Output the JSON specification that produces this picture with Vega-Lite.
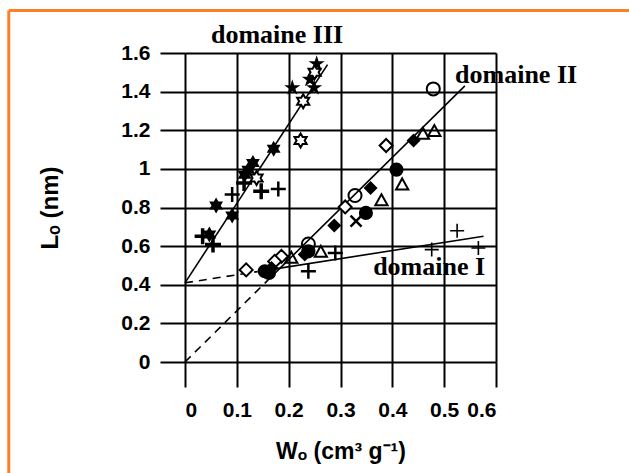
{
  "$schema": "https://vega.github.io/schema/vega-lite/v6.json",
  "width": 311,
  "height": 309,
  "autosize": "none",
  "padding": {"left": 185, "top": 53, "right": 133, "bottom": 111},
  "background": "white",
  "config": {"view": {"stroke": null}},
  "datasets": {
    "points": [
      {"t": "star5", "x": 0.254, "y": 1.544},
      {"t": "star5", "x": 0.241, "y": 1.463},
      {"t": "star5", "x": 0.249, "y": 1.42},
      {"t": "star5", "x": 0.207, "y": 1.42},
      {"t": "hexo", "x": 0.25, "y": 1.5},
      {"t": "hexo", "x": 0.228, "y": 1.35},
      {"t": "hexo", "x": 0.223, "y": 1.147},
      {"t": "hexo", "x": 0.138, "y": 0.953},
      {"t": "hex", "x": 0.171, "y": 1.104},
      {"t": "hex", "x": 0.131, "y": 1.031},
      {"t": "hex", "x": 0.122, "y": 0.996},
      {"t": "hex", "x": 0.115, "y": 0.97},
      {"t": "hex", "x": 0.06, "y": 0.811},
      {"t": "hex", "x": 0.091, "y": 0.758},
      {"t": "hex", "x": 0.047, "y": 0.66},
      {"t": "plusT", "x": 0.034, "y": 0.651},
      {"t": "plusT", "x": 0.054, "y": 0.608},
      {"t": "plusT", "x": 0.114, "y": 0.927},
      {"t": "plusT", "x": 0.147, "y": 0.884},
      {"t": "plusM", "x": 0.091, "y": 0.867},
      {"t": "plusM", "x": 0.18, "y": 0.896},
      {"t": "plusM", "x": 0.29, "y": 0.565},
      {"t": "plusM", "x": 0.238, "y": 0.47},
      {"t": "plusS", "x": 0.525, "y": 0.68},
      {"t": "plusS", "x": 0.476, "y": 0.582},
      {"t": "plusS", "x": 0.566, "y": 0.59},
      {"t": "circo", "x": 0.479, "y": 1.414},
      {"t": "circo", "x": 0.328, "y": 0.862},
      {"t": "circo", "x": 0.238, "y": 0.611},
      {"t": "circf", "x": 0.408, "y": 0.996},
      {"t": "circf", "x": 0.349, "y": 0.772},
      {"t": "circf", "x": 0.238, "y": 0.573},
      {"t": "circf", "x": 0.154, "y": 0.47},
      {"t": "circf", "x": 0.162, "y": 0.461},
      {"t": "diao", "x": 0.388, "y": 1.121},
      {"t": "diao", "x": 0.309, "y": 0.803},
      {"t": "diao", "x": 0.118, "y": 0.477},
      {"t": "diao", "x": 0.186, "y": 0.547},
      {"t": "diao", "x": 0.173, "y": 0.521},
      {"t": "diaf", "x": 0.441, "y": 1.147},
      {"t": "diaf", "x": 0.358, "y": 0.901},
      {"t": "diaf", "x": 0.288, "y": 0.707},
      {"t": "diaf", "x": 0.231, "y": 0.556},
      {"t": "diaf", "x": 0.167, "y": 0.487},
      {"t": "tri", "x": 0.481, "y": 1.195},
      {"t": "tri", "x": 0.459, "y": 1.181},
      {"t": "tri", "x": 0.419, "y": 0.919},
      {"t": "tri", "x": 0.379, "y": 0.837},
      {"t": "tri", "x": 0.205, "y": 0.539},
      {"t": "tri", "x": 0.262, "y": 0.57},
      {"t": "x", "x": 0.33, "y": 0.729}
    ],
    "lines": [
      {"seg": "III", "style": "solid", "x": 0, "y": 0.41},
      {"seg": "III", "style": "solid", "x": 0.275, "y": 1.54},
      {"seg": "IIa", "style": "dash", "x": 0, "y": 0},
      {"seg": "IIa", "style": "dash", "x": 0.16, "y": 0.424},
      {"seg": "IIb", "style": "solid", "x": 0.16, "y": 0.424},
      {"seg": "IIb", "style": "solid", "x": 0.54, "y": 1.43},
      {"seg": "Ia", "style": "dash", "x": 0, "y": 0.41},
      {"seg": "Ia", "style": "dash", "x": 0.14, "y": 0.468},
      {"seg": "Ib", "style": "solid", "x": 0.14, "y": 0.468},
      {"seg": "Ib", "style": "solid", "x": 0.576, "y": 0.651}
    ],
    "labels": [
      {"label": "domaine III", "x": 0.05, "y": 1.652},
      {"label": "domaine II", "x": 0.521, "y": 1.445},
      {"label": "domaine I", "x": 0.363, "y": 0.451}
    ],
    "frame": [
      {"side": "top", "x": -0.34, "y": 1.82},
      {"side": "top", "x": 0.9, "y": 1.82},
      {"side": "left", "x": -0.34, "y": 1.82},
      {"side": "left", "x": -0.34, "y": -0.6}
    ]
  },
  "encoding": {
    "x": {
      "field": "x", "type": "quantitative",
      "scale": {"domain": [0, 0.6], "nice": false, "zero": false},
      "axis": {
        "values": [0, 0.1, 0.2, 0.3, 0.4, 0.5, 0.6],
        "format": "~g",
        "grid": true, "gridColor": "black", "gridWidth": 2, "gridOpacity": 1,
        "domain": false,
        "tickSize": 25, "tickColor": "black", "tickWidth": 2,
        "labelFont": "Liberation Sans", "labelFontSize": 21, "labelFontWeight": "bold", "labelColor": "black",
        "labelPadding": 12,
        "title": "Wₒ (cm³ g⁻¹)",
        "titleFont": "Liberation Sans", "titleFontSize": 23, "titleFontWeight": "bold", "titleColor": "black",
        "titlePadding": 20
      }
    },
    "y": {
      "field": "y", "type": "quantitative",
      "scale": {"domain": [0, 1.6], "nice": false, "zero": false},
      "axis": {
        "values": [0, 0.2, 0.4, 0.6, 0.8, 1, 1.2, 1.4, 1.6],
        "format": "~g",
        "grid": true, "gridColor": "black", "gridWidth": 2, "gridOpacity": 1,
        "domain": false,
        "tickSize": 25, "tickColor": "black", "tickWidth": 2,
        "labelFont": "Liberation Sans", "labelFontSize": 21, "labelFontWeight": "bold", "labelColor": "black",
        "labelPadding": 10,
        "title": "Lₒ (nm)",
        "titleFont": "Liberation Sans", "titleFontSize": 24, "titleFontWeight": "bold", "titleColor": "black",
        "titlePadding": 58
      }
    }
  },
  "layer": [
    {
      "data": {"name": "frame"},
      "mark": {"type": "line", "color": "#ff7f27", "strokeWidth": 3, "clip": false},
      "encoding": {"detail": {"field": "side"}}
    },
    {
      "data": {"name": "lines"},
      "transform": [{"filter": "datum.style === 'solid'"}],
      "mark": {"type": "line", "color": "black", "strokeWidth": 1.6},
      "encoding": {"detail": {"field": "seg"}}
    },
    {
      "data": {"name": "lines"},
      "transform": [{"filter": "datum.style === 'dash'"}],
      "mark": {"type": "line", "color": "black", "strokeWidth": 1.6, "strokeDash": [8, 6]},
      "encoding": {"detail": {"field": "seg"}}
    },
    {
      "data": {"name": "points"},
      "transform": [{"filter": "datum.t === 'star5'"}],
      "mark": {"type": "point", "shape": "M0,-1L0.225,-0.309L0.951,-0.309L0.363,0.118L0.588,0.809L0,0.382L-0.588,0.809L-0.363,0.118L-0.951,-0.309L-0.225,-0.309Z", "size": 289, "filled": true, "color": "black", "opacity": 1}
    },
    {
      "data": {"name": "points"},
      "transform": [{"filter": "datum.t === 'hex'"}],
      "mark": {"type": "point", "shape": "M0,-1L0.289,-0.5L0.866,-0.5L0.577,0L0.866,0.5L0.289,0.5L0,1L-0.289,0.5L-0.866,0.5L-0.577,0L-0.866,-0.5L-0.289,-0.5Z", "size": 256, "filled": true, "color": "black", "opacity": 1}
    },
    {
      "data": {"name": "points"},
      "transform": [{"filter": "datum.t === 'hexo'"}],
      "mark": {"type": "point", "shape": "M0,-1L0.289,-0.5L0.866,-0.5L0.577,0L0.866,0.5L0.289,0.5L0,1L-0.289,0.5L-0.866,0.5L-0.577,0L-0.866,-0.5L-0.289,-0.5Z", "size": 196, "filled": false, "fill": "white", "fillOpacity": 1, "stroke": "black", "strokeWidth": 2, "opacity": 1}
    },
    {
      "data": {"name": "points"},
      "transform": [{"filter": "datum.t === 'plusT'"}],
      "mark": {"type": "point", "shape": "M-1,0L1,0M0,-1L0,1", "size": 256, "filled": false, "stroke": "black", "strokeWidth": 3.5, "opacity": 1}
    },
    {
      "data": {"name": "points"},
      "transform": [{"filter": "datum.t === 'plusM'"}],
      "mark": {"type": "point", "shape": "M-1,0L1,0M0,-1L0,1", "size": 225, "filled": false, "stroke": "black", "strokeWidth": 2.5, "opacity": 1}
    },
    {
      "data": {"name": "points"},
      "transform": [{"filter": "datum.t === 'plusS'"}],
      "mark": {"type": "point", "shape": "M-1,0L1,0M0,-1L0,1", "size": 196, "filled": false, "stroke": "black", "strokeWidth": 1.6, "opacity": 1}
    },
    {
      "data": {"name": "points"},
      "transform": [{"filter": "datum.t === 'circo'"}],
      "mark": {"type": "point", "shape": "circle", "size": 170, "filled": false, "stroke": "black", "strokeWidth": 2, "opacity": 1}
    },
    {
      "data": {"name": "points"},
      "transform": [{"filter": "datum.t === 'circf'"}],
      "mark": {"type": "point", "shape": "circle", "size": 200, "filled": true, "color": "black", "opacity": 1}
    },
    {
      "data": {"name": "points"},
      "transform": [{"filter": "datum.t === 'diao'"}],
      "mark": {"type": "point", "shape": "M-1,0L0,-1L1,0L0,1Z", "size": 169, "filled": false, "fill": "white", "fillOpacity": 1, "stroke": "black", "strokeWidth": 2, "opacity": 1}
    },
    {
      "data": {"name": "points"},
      "transform": [{"filter": "datum.t === 'diaf'"}],
      "mark": {"type": "point", "shape": "M-1,0L0,-1L1,0L0,1Z", "size": 196, "filled": true, "color": "black", "opacity": 1}
    },
    {
      "data": {"name": "points"},
      "transform": [{"filter": "datum.t === 'tri'"}],
      "mark": {"type": "point", "shape": "M0,-1L1,0.8L-1,0.8Z", "size": 150, "filled": false, "stroke": "black", "strokeWidth": 2, "opacity": 1}
    },
    {
      "data": {"name": "points"},
      "transform": [{"filter": "datum.t === 'x'"}],
      "mark": {"type": "point", "shape": "M-1,-1L1,1M-1,1L1,-1", "size": 121, "filled": false, "stroke": "black", "strokeWidth": 2.5, "opacity": 1}
    },
    {
      "data": {"name": "labels"},
      "mark": {"type": "text", "align": "left", "baseline": "alphabetic", "font": "Liberation Serif", "fontWeight": "bold", "fontSize": 26, "color": "black", "clip": false},
      "encoding": {"text": {"field": "label"}}
    }
  ]
}
